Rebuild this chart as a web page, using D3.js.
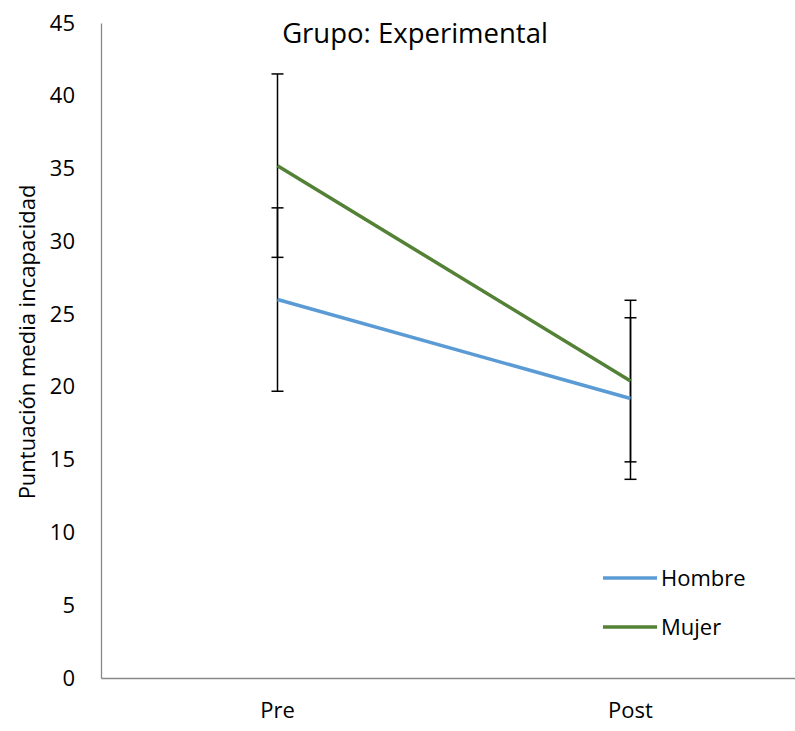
<!DOCTYPE html>
<html lang="es">
<head>
  <meta charset="UTF-8">
  <title>Grupo: Experimental</title>
  <style>
    body { margin: 0; background: #fff; }
    svg text { font-family: "Open Sans", sans-serif; fill: #000; }
  </style>
</head>
<body>
  <svg width="795" height="731" id="viz"></svg>

  <script src="https://cdn.jsdelivr.net/npm/d3@7"></script>
  <script>
/* global d3 */

// data
let momentos = ["Pre", "Post"];
let series = ["Hombre", "Mujer"];
let hombre = [26.0, 19.2];
let mujer = [35.2, 20.4];
let errHombre = [6.3, 5.55];
let errMujer = [6.3, 5.55];
let yTicks = [0, 5, 10, 15, 20, 25, 30, 35, 40, 45];
let colores = ["#5b9bd5", "#538135"];

let svg = d3.select("#viz"),
  margin = {top: 23, right: 0, bottom: 53, left: 101},
  width = 706,
  height = +svg.attr("height") - margin.top - margin.bottom,
  g = svg.append("g").attr("transform", "translate(" + margin.left + "," + margin.top + ")");

let x = d3.scaleBand()
  .domain(momentos)
  .range([0, width]);

let y = d3.scaleLinear()
  .domain([0, 45])
  .range([height, 0]);

// axes
let yAxis = g.append("g")
  .attr("class", "y axis")
  .call(d3.axisLeft(y).tickValues(yTicks).tickSize(0).tickPadding(26));
yAxis.select(".domain").attr("stroke", "#888").attr("stroke-width", 1.3);
yAxis.selectAll("text").style("font-size", "22px");

let xAxis = g.append("g")
  .attr("class", "x axis")
  .attr("transform", "translate(0," + height + ")")
  .call(d3.axisBottom(x).tickSize(0).tickPadding(24));
xAxis.select(".domain").attr("stroke", "#888").attr("stroke-width", 1.3);
xAxis.selectAll("text").style("font-size", "22px");

let datos = series.map((s, i) => ({
  name: s,
  values: (i === 0 ? hombre : mujer).map((v, j) => ({
    m: momentos[j],
    v: v,
    e: (i === 0 ? errHombre : errMujer)[j]
  }))
}));

let cx = d => x(d.m) + x.bandwidth() / 2;

// error bars
let bars = g.selectAll(".err")
  .data(datos.flatMap(s => s.values))
  .enter()
  .append("g")
  .attr("class", "err")
  .attr("stroke", "#000")
  .attr("stroke-width", 1.5);

bars.append("line")
  .attr("x1", cx).attr("x2", cx)
  .attr("y1", d => y(d.v - d.e))
  .attr("y2", d => y(d.v + d.e));
bars.append("line")
  .attr("x1", d => cx(d) - 6).attr("x2", d => cx(d) + 6)
  .attr("y1", d => y(d.v + d.e)).attr("y2", d => y(d.v + d.e));
bars.append("line")
  .attr("x1", d => cx(d) - 6).attr("x2", d => cx(d) + 6)
  .attr("y1", d => y(d.v - d.e)).attr("y2", d => y(d.v - d.e));

// lines
let line = d3.line()
  .x(cx)
  .y(d => y(d.v));

g.selectAll(".serie")
  .data(datos)
  .enter()
  .append("path")
  .attr("class", "serie")
  .attr("fill", "none")
  .attr("stroke", (d, i) => colores[i])
  .attr("stroke-width", 3.5)
  .attr("d", d => line(d.values));

// title
svg.append("text")
  .attr("x", 415)
  .attr("y", 43)
  .attr("text-anchor", "middle")
  .style("font-size", "27.5px")
  .text("Grupo: Experimental");

// y label
svg.append("text")
  .attr("transform", "translate(35," + 342 + ") rotate(-90)")
  .attr("text-anchor", "middle")
  .style("font-size", "22px")
  .text("Puntuación media incapacidad");

// legend
let legend = svg.selectAll(".legend")
  .data(series)
  .enter()
  .append("g")
  .attr("class", "legend")
  .attr("transform", (d, i) => "translate(603," + (578 + i * 49) + ")");

legend.append("line")
  .attr("x1", 0).attr("x2", 54)
  .attr("stroke", (d, i) => colores[i])
  .attr("stroke-width", 3.5);

legend.append("text")
  .attr("x", 58)
  .attr("dy", "0.35em")
  .style("font-size", "22px")
  .text(d => d);
  </script>
</body>
</html>
